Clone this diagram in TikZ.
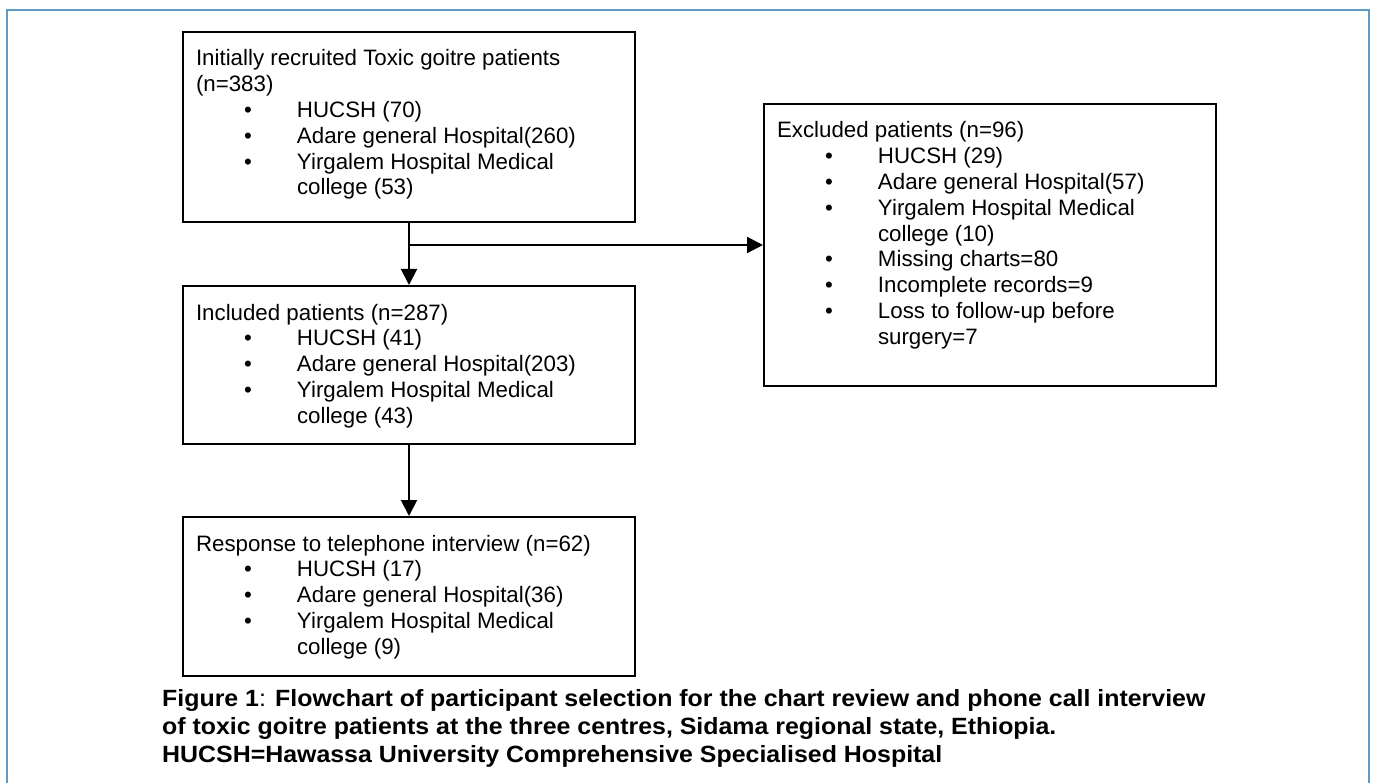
\documentclass[tikz,border=0pt]{standalone}
\usepackage{fontspec}
\setmainfont{Liberation Sans}
\newfontfamily\capfont[FakeStretch = 1.06]{Liberation Sans}
\usetikzlibrary{arrows.meta, positioning}

\definecolor{framecol}{RGB}{96,156,202}

% Box text: fixed size, top aligned, first baseline 34pt below the top
\newcommand{\flowbody}[3]{\parbox[c][#2][t]{#1}{\fontsize{22.3}{25.8}\selectfont\rule{0pt}{34pt}#3}}
\newcommand{\itm}[1]{\mbox{\makebox[101pt][l]{\hspace{48pt}•}#1}}
\newcommand{\cont}[1]{\mbox{\hspace*{101pt}#1}}

\tikzset{
	flowbox/.style = {draw, line width = 2pt, anchor = north west, inner xsep = 13pt, inner ysep = 0pt},
	flowline/.style = {->, line width = 2pt},
	figcaption/.style = {anchor = north west, inner sep = 0pt, align = left, font = \capfont\fontsize{23.5}{28}\selectfont\bfseries}
}

\begin{document}
\begin{tikzpicture}[x = 1pt, y = -1pt, > = {Triangle[width = 16pt, length = 16pt]}]

	% Page and frame

	\useasboundingbox (0, 0) rectangle (1375, 783);
	\draw [framecol, line width = 1.5pt] (7, 800) -- (7, 10) -- (1369, 10) -- (1369, 800);

	% Boxes

	\node [flowbox] (init) at (182, 31) {\flowbody{426pt}{190pt}{%
		\mbox{Initially recruited Toxic goitre patients}\\
		\mbox{(n=383)}\\
		\itm{HUCSH (70)}\\
		\itm{Adare general Hospital(260)}\\
		\itm{Yirgalem Hospital Medical}\\
		\cont{college (53)}}};

	\node [flowbox] (incl) at (182, 285) {\flowbody{426pt}{158pt}{%
		\mbox{Included patients (n=287)}\\
		\itm{HUCSH (41)}\\
		\itm{Adare general Hospital(203)}\\
		\itm{Yirgalem Hospital Medical}\\
		\cont{college (43)}}};

	\node [flowbox] (resp) at (182, 516) {\flowbody{426pt}{159pt}{%
		\mbox{Response to telephone interview (n=62)}\\
		\itm{HUCSH (17)}\\
		\itm{Adare general Hospital(36)}\\
		\itm{Yirgalem Hospital Medical}\\
		\cont{college (9)}}};

	\node [flowbox] (excl) at (763, 103) {\flowbody{426pt}{282pt}{%
		\mbox{Excluded patients (n=96)}\\
		\itm{HUCSH (29)}\\
		\itm{Adare general Hospital(57)}\\
		\itm{Yirgalem Hospital Medical}\\
		\cont{college (10)}\\
		\itm{Missing charts=80}\\
		\itm{Incomplete records=9}\\
		\itm{Loss to follow-up before}\\
		\cont{surgery=7}}};

	% Connectors

	\draw [flowline] (init.south) -- (incl.north);
	\coordinate (split) at (init.south |- excl.west);
	\draw [flowline] (split) -- (excl.west);
	\draw [flowline] (incl.south) -- (resp.north);

	% Caption

	\node [figcaption] (cap) at (162, 689) {Figure 1\textmd{:} Flowchart of participant selection for the chart review and phone call interview\\
		of toxic goitre patients at the three centres, Sidama regional state, Ethiopia.\\
		HUCSH=Hawassa University Comprehensive Specialised Hospital};

\end{tikzpicture}
\end{document}
